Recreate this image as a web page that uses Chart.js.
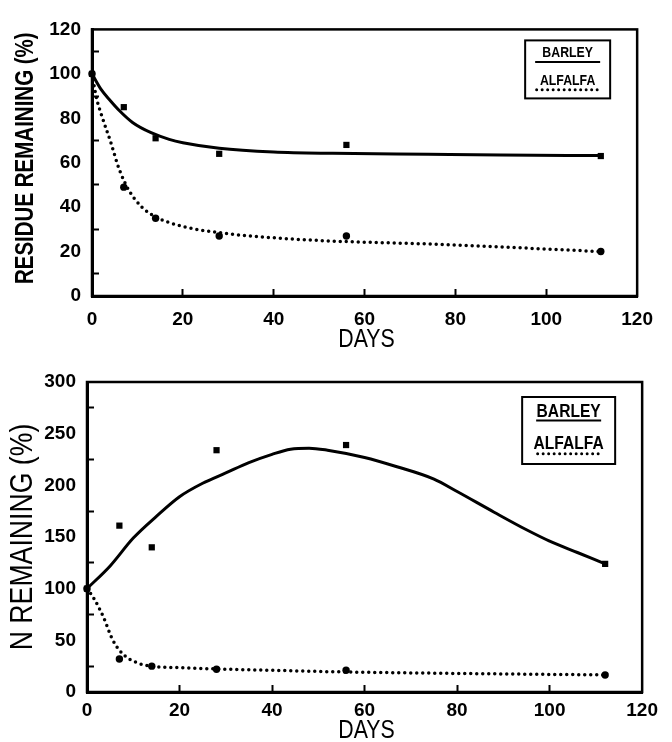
<!DOCTYPE html>
<html>
<head>
<meta charset="utf-8">
<script src="https://cdn.jsdelivr.net/npm/chart.js@4/dist/chart.umd.min.js"></script>
<style>
  html, body { margin: 0; padding: 0; background: #fff; }
  #wrap { position: relative; width: 672px; height: 742px; }
  canvas { position: absolute; left: 0; }
  #c1 { top: 0; }
  #c2 { top: 350px; }
</style>
</head>
<body>
<div id="wrap">
  <canvas id="c1" width="672" height="350"></canvas>
  <canvas id="c2" width="672" height="392"></canvas>
</div>
<script>
// ---------- DATA ----------
const seriesNames = ['BARLEY', 'ALFALFA'];
const sampleDays = [0, 7, 14, 28, 56, 112];

// Top panel: residue remaining (%)
const resBarleyObs  = [100, 85, 71, 64, 68, 63];
const resAlfalfaObs = [100, 49, 35, 27, 27, 20];
const resBarleyFitDays = [0, 2, 4, 6, 9, 13, 17, 20, 28, 40, 53, 74, 90, 112];
const resBarleyFit     = [100, 93, 88, 83.5, 78, 73.5, 70.5, 69, 66.5, 64.8, 64.2, 63.8, 63.5, 63.2];
const resAlfalfaFitDays = [0, 1, 2, 4, 6, 8, 11, 14, 20, 28, 40, 52, 74, 95, 112];
const resAlfalfaFit     = [100, 89, 82, 70, 57, 48, 40, 35.6, 31.3, 28.5, 26.2, 24.8, 23.4, 21.6, 20];

// Bottom panel: N remaining (%)
const nBarleyObs  = [100, 161, 140, 234, 239, 124];
const nAlfalfaObs = [100, 32, 25, 22, 21, 16.5];
const nBarleyFitDays = [0, 5, 10, 15, 20, 25, 30, 35, 40, 44, 48, 52, 60, 67, 75, 80, 88, 95, 100, 106, 112];
const nBarleyFit     = [100, 122, 149, 170, 189, 202, 212, 222, 230, 235, 236, 234, 227, 218, 206, 194, 174, 157, 146, 135, 124];
const nAlfalfaFitDays = [0, 1.3, 3.5, 5.6, 7.7, 11, 14, 20, 28, 40, 52, 70, 90, 112];
const nAlfalfaFit     = [100, 92, 73, 50, 37, 28, 25, 23.5, 22.3, 21, 19.7, 18.5, 17.5, 16.5];

// Axis tick labels
const dayTicks = [0, 20, 40, 60, 80, 100, 120];
const residueTicks = [0, 20, 40, 60, 80, 100, 120];
const nTicks = [0, 50, 100, 150, 200, 250, 300];

// ---------- HELPERS ----------
const pts = (xs, ys) => xs.map((x, i) => ({ x: x, y: ys[i] }));
const BLACK = '#000';
const SANS = '"Liberation Sans", Arial, Helvetica, sans-serif';

const framePlugin = {
  id: 'frame',
  afterDatasetsDraw(chart) {
    const a = chart.chartArea, ctx = chart.ctx;
    ctx.save();
    ctx.strokeStyle = BLACK;
    ctx.lineWidth = 2.5;
    ctx.strokeRect(a.left, a.top, a.right - a.left, a.bottom - a.top);
    ctx.restore();
  }
};

// condensed text helper (narrow typeface look)
function narrowText(ctx, text, x, y, sx, rotate) {
  ctx.save();
  ctx.translate(x, y);
  if (rotate) ctx.rotate(-Math.PI / 2);
  ctx.scale(sx, 1);
  ctx.fillText(text, 0, 0);
  ctx.restore();
}

const axisTitlePlugin = {
  id: 'axisTitles',
  afterDraw(chart, args, o) {
    const a = chart.chartArea, ctx = chart.ctx;
    ctx.save();
    ctx.fillStyle = BLACK;
    ctx.textAlign = 'center';
    ctx.textBaseline = 'alphabetic';
    ctx.font = o.x.font;
    narrowText(ctx, o.x.text, (a.left + a.right) / 2 + o.x.dx, a.bottom + o.x.dy, o.x.sx, false);
    ctx.font = o.y.font;
    narrowText(ctx, o.y.text, o.y.baseX, (a.top + a.bottom) / 2 + o.y.dy, o.y.sx, true);
    ctx.restore();
  }
};

const boxLegendPlugin = {
  id: 'boxLegend',
  afterDraw(chart, args, o) {
    const a = chart.chartArea, ctx = chart.ctx;
    const ds = chart.data.datasets;
    const x0 = a.right - o.rightGap - o.w, y0 = a.top + o.topGap;
    const cx = x0 + o.w / 2;
    ctx.save();
    ctx.strokeStyle = BLACK; ctx.fillStyle = BLACK;
    ctx.lineWidth = 2;
    ctx.strokeRect(x0, y0, o.w, o.h);
    ctx.font = 'bold ' + o.fontSize + 'px ' + SANS;
    ctx.textAlign = 'center';
    ctx.textBaseline = 'alphabetic';
    narrowText(ctx, ds[0].label, cx, y0 + o.b1, 0.82, false);
    narrowText(ctx, ds[1].label, cx, y0 + o.b2, 0.82, false);
    ctx.lineWidth = 2;
    ctx.beginPath();
    ctx.moveTo(cx - o.l1 / 2, y0 + o.y1);
    ctx.lineTo(cx + o.l1 / 2, y0 + o.y1);
    ctx.stroke();
    ctx.lineWidth = 3;
    ctx.lineCap = 'round';
    ctx.setLineDash([0, 5.5]);
    ctx.beginPath();
    ctx.moveTo(cx - o.l2 / 2, y0 + o.y2);
    ctx.lineTo(cx + o.l2 / 2, y0 + o.y2);
    ctx.stroke();
    ctx.restore();
  }
};

function makeChart(canvasId, cfg) {
  const tickFont = { family: SANS, weight: 'bold', size: 19 };
  return new Chart(document.getElementById(canvasId), {
    type: 'scatter',
    data: {
      datasets: [
        { type: 'line', label: seriesNames[0], data: pts(cfg.bFitX, cfg.bFit),
          borderColor: BLACK, borderWidth: 3, pointRadius: 0, fill: false,
          cubicInterpolationMode: 'monotone', clip: false },
        { type: 'line', label: seriesNames[1], data: pts(cfg.aFitX, cfg.aFit),
          borderColor: BLACK, borderWidth: 3.5, borderDash: [0, 6], borderCapStyle: 'round',
          pointRadius: 0, fill: false, cubicInterpolationMode: 'monotone', clip: false },
        { label: seriesNames[0] + ' obs', data: pts(sampleDays, cfg.bObs),
          pointStyle: 'rect', pointRadius: 4.4, backgroundColor: BLACK, borderColor: BLACK,
          borderWidth: 0, clip: false },
        { label: seriesNames[1] + ' obs', data: pts(sampleDays, cfg.aObs),
          pointStyle: 'circle', pointRadius: 3.7, backgroundColor: BLACK, borderColor: BLACK,
          borderWidth: 0, clip: false }
      ]
    },
    options: {
      responsive: false,
      animation: false,
      devicePixelRatio: 1,
      layout: { padding: { top: cfg.padTop, right: cfg.padRight, left: 0, bottom: 0 } },
      plugins: {
        legend: { display: false },
        tooltip: { enabled: false },
        boxLegend: cfg.legend,
        axisTitles: cfg.titles
      },
      scales: {
        x: {
          type: 'linear', min: dayTicks[0], max: dayTicks[dayTicks.length - 1],
          afterBuildTicks: s => { s.ticks = dayTicks.map(v => ({ value: v })); },
          ticks: { font: tickFont, color: BLACK, padding: cfg.xTickPad, autoSkip: false, maxRotation: 0,
                   callback: v => String(v) },
          grid: { drawOnChartArea: false, drawTicks: true, tickLength: -7, tickWidth: 2,
                  tickColor: c => (c.tick && (c.tick.value === dayTicks[0] || c.tick.value === dayTicks[dayTicks.length - 1])) ? 'rgba(0,0,0,0)' : BLACK },
          border: { display: true, color: BLACK, width: 3 },
          title: { display: false },
          afterFit: s => { s.height = cfg.xH; }
        },
        y: {
          type: 'linear', min: cfg.yTicks[0], max: cfg.yTicks[cfg.yTicks.length - 1],
          afterBuildTicks: s => {
            const arr = [];
            for (let i = 0; i < cfg.yTicks.length; i++) {
              arr.push({ value: cfg.yTicks[i] });
              if (i < cfg.yTicks.length - 1) arr.push({ value: (cfg.yTicks[i] + cfg.yTicks[i + 1]) / 2, minor: true });
            }
            s.ticks = arr;
          },
          ticks: { font: tickFont, color: BLACK, padding: 18, autoSkip: false,
                   callback: v => cfg.yTicks.includes(v) ? String(v) : '' },
          grid: { drawOnChartArea: false, drawTicks: true, tickLength: -7, tickWidth: 2,
                  tickColor: c => (c.tick && cfg.yTicks.includes(c.tick.value)) ? 'rgba(0,0,0,0)' : BLACK },
          border: { display: true, color: BLACK, width: 3 },
          title: { display: false },
          afterFit: s => { s.width = cfg.yW; }
        }
      }
    },
    plugins: [framePlugin, axisTitlePlugin, boxLegendPlugin]
  });
}

makeChart('c1', {
  bFitX: resBarleyFitDays, bFit: resBarleyFit, aFitX: resAlfalfaFitDays, aFit: resAlfalfaFit,
  bObs: resBarleyObs, aObs: resAlfalfaObs,
  padTop: 16, padRight: 23, yW: 92, xH: 54, xTickPad: 19,
  yTicks: residueTicks,
  titles: {
    x: { text: 'DAYS', font: '26px ' + SANS, sx: 0.82, dx: 2, dy: 51 },
    y: { text: 'RESIDUE REMAINING (%)', font: 'bold 25px ' + SANS, sx: 0.82, baseX: 33, dy: -4.5 }
  },
  legend: { w: 85, h: 58, rightGap: 27, topGap: 11, fontSize: 15, b1: 16.7, b2: 45, y1: 21.7, y2: 49.3, l1: 65, l2: 62 }
});

makeChart('c2', {
  bFitX: nBarleyFitDays, bFit: nBarleyFit, aFitX: nAlfalfaFitDays, aFit: nAlfalfaFit,
  bObs: nBarleyObs, aObs: nAlfalfaObs,
  padTop: 32, padRight: 21, yW: 87, xH: 50, xTickPad: 14,
  yTicks: nTicks,
  titles: {
    x: { text: 'DAYS', font: '26px ' + SANS, sx: 0.82, dx: 2, dy: 46 },
    y: { text: 'N REMAINING (%)', font: '31px ' + SANS, sx: 0.86, baseX: 32, dy: 0 }
  },
  legend: { w: 93, h: 67, rightGap: 27, topGap: 15, fontSize: 19, b1: 20, b2: 51.7, y1: 23.5, y2: 56.7, l1: 65, l2: 62 }
});
</script>
</body>
</html>
